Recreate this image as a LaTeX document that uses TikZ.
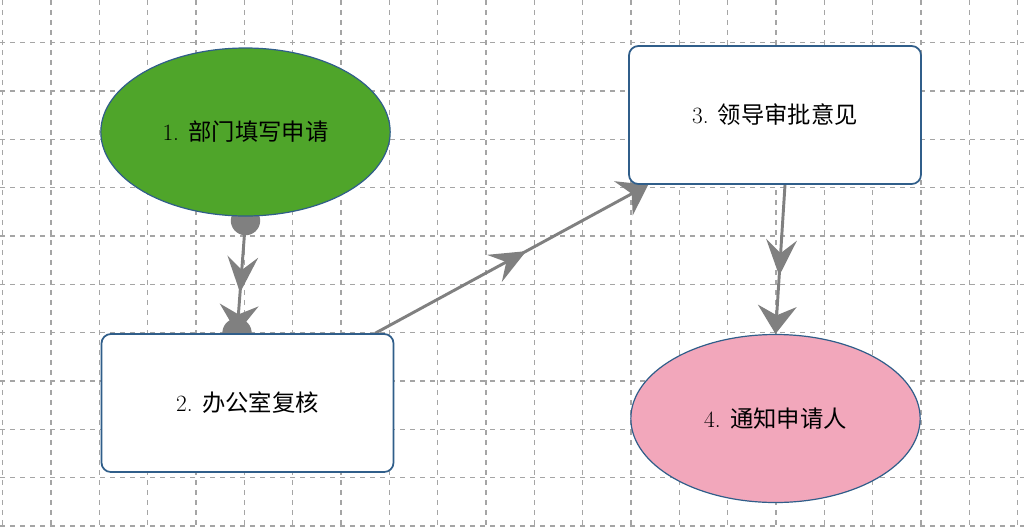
\documentclass[tikz,border=0pt]{standalone}
\usepackage{fontspec}
\newfontfamily\cjk{Noto Sans CJK SC}
\usetikzlibrary{shapes.geometric,arrows.meta,decorations.markings,calc}
\definecolor{leafgreen}{RGB}{79,165,42}
\definecolor{rosepink}{RGB}{242,167,187}
\definecolor{frameblue}{RGB}{48,94,138}
\definecolor{flowgray}{RGB}{128,128,128}
\definecolor{gridgray}{RGB}{165,165,165}
\pgfdeclarelayer{gridlayer}
\pgfdeclarelayer{flowlayer}
\pgfsetlayers{gridlayer,flowlayer,main}
\tikzset{
  midtip/.tip={Stealth[length=27pt,width=23pt,inset=10pt]},
  endtip/.tip={Stealth[length=21pt,width=29pt,inset=7pt]},
  gridline/.style={draw=gridgray, line width=1pt, dash pattern=on 3.5pt off 4pt},
  stage/.style={draw=frameblue, line width=0.9pt, inner sep=0pt, text=black,
    font=\fontsize{17.5}{20}\selectfont},
  oval/.style={stage, ellipse, minimum width=217pt, minimum height=126pt},
  card/.style={stage, rectangle, rounded corners=7pt, fill=white, line width=1.3pt,
    minimum width=219pt, minimum height=103.5pt},
  flow/.style={draw=flowgray, line width=2.2pt},
}

\begin{document}
\begin{tikzpicture}[x=0.75pt, y=-0.75pt]
  \useasboundingbox (0,0) rectangle (1024,529);

  % steps of the approval
  \node[oval, fill=leafgreen] (apply) at (245.5,132) {1. {\cjk 部门填写申请}};
  \node[card] (office) at (247.5,403) {2. {\cjk 办公室复核}};
  \node[card] (leader) at (775,115) {3. {\cjk 领导审批意见}};
  \node[oval, fill=rosepink] (notify) at (775.5,418.5) {4. {\cjk 通知申请人}};

  % background grid
  \begin{pgfonlayer}{gridlayer}
    \fill[white] (0,0) rectangle (1024,529);
    \foreach \gx in {0,...,21}
      \draw[gridline] ({2.7+48.33*\gx},0) -- ({2.7+48.33*\gx},529);
    \foreach \gy in {0,...,10}
      \draw[gridline] (0,{42.7+48.33*\gy}) -- (1024,{42.7+48.33*\gy});
  \end{pgfonlayer}

  % connectors
  \begin{pgfonlayer}{flowlayer}
    \draw[flow, postaction={decorate}, decoration={markings,
        mark=at position 0 with {\fill[flowgray] (0,0) circle (11pt);},
        mark=at position 0.64 with {\arrow[flowgray]{midtip}},
        mark=at position 0.999 with {\fill[flowgray] (0,0) circle (11pt); \arrow[flowgray]{endtip}}}]
      ($(apply.south)+(0,4)$) -- ($(office.north)+(-10.5,0)$);
    \draw[flow, -{endtip}, postaction={decorate}, decoration={markings,
        mark=at position 0.553 with {\arrow[flowgray]{midtip}}}]
      ($(office.north east)+(-19,0)$) -- ($(leader.south west)+(20,0)$);
    \draw[flow, -{endtip}, postaction={decorate}, decoration={markings,
        mark=at position 0.61 with {\arrow[flowgray]{midtip}}}]
      ($(leader.south)+(10,0)$) -- (notify.north);
  \end{pgfonlayer}
\end{tikzpicture}
\end{document}
